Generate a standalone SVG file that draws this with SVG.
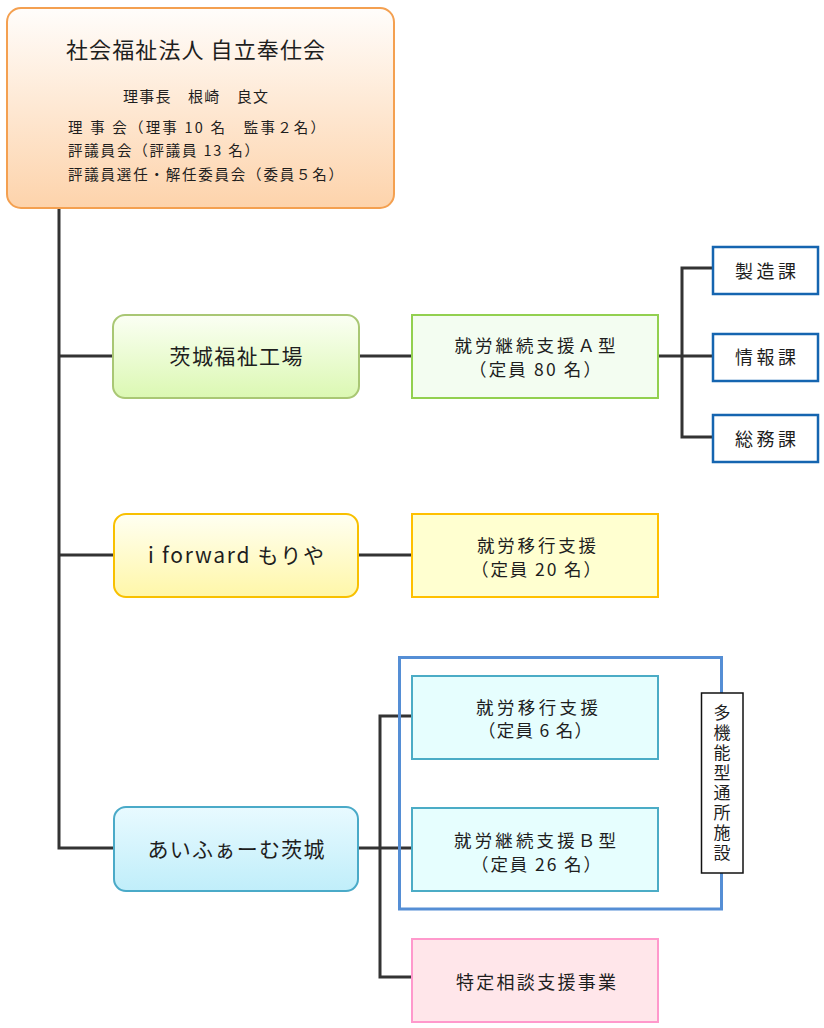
<svg xmlns="http://www.w3.org/2000/svg" width="824" height="1028" viewBox="0 0 824 1028">
<defs>
<linearGradient id="gOrange" x1="0" y1="0" x2="0" y2="1"><stop offset="0" stop-color="#fffdfb"/><stop offset="1" stop-color="#fdd3ab"/></linearGradient>
<linearGradient id="gGreen" x1="0" y1="0" x2="0" y2="1"><stop offset="0" stop-color="#fbfff4"/><stop offset="1" stop-color="#dbf8b2"/></linearGradient>
<linearGradient id="gYellow" x1="0" y1="0" x2="0" y2="1"><stop offset="0" stop-color="#fffff2"/><stop offset="1" stop-color="#fff7a8"/></linearGradient>
<linearGradient id="gBlue" x1="0" y1="0" x2="0" y2="1"><stop offset="0" stop-color="#e8faff"/><stop offset="1" stop-color="#c0eefa"/></linearGradient>
</defs>
<style>
text{font-family:"Noto Sans CJK JP","Noto Sans",sans-serif;fill:#1e1e1e;}
.c{text-anchor:middle;}
.conn{fill:none;stroke:#333;stroke-width:3;}
.sec{fill:#fff;stroke:#1565b0;stroke-width:2.5;}
.t16{font-size:17.5px;}
.t17{font-size:18px;}
.t19{font-size:21px;}
.vert{writing-mode:vertical-rl;font-size:17px;letter-spacing:3px;}
</style>
<rect width="824" height="1028" fill="#fff"/>
<g id="connectors">
<path class="conn" d="M59 208V848H114"/>
<path class="conn" d="M59 356H113"/>
<path class="conn" d="M59 555H114"/>
<path class="conn" d="M359 356H412"/>
<path class="conn" d="M658 356H713"/>
<path class="conn" d="M713 268H682V437H713"/>
<path class="conn" d="M358 555H412"/>
<path class="conn" d="M358 848H412"/>
<path class="conn" d="M412 716H380V977H412"/>
</g>
<g id="multi-group">
<rect x="399.5" y="657.5" width="322" height="251.5" fill="none" stroke="#558ed5" stroke-width="3"/>
</g>
<g id="hq">
<rect x="7" y="8" width="387" height="200" rx="14" fill="url(#gOrange)" stroke="#f4a050" stroke-width="2"/>
<text x="66" y="58" font-size="22" textLength="259" lengthAdjust="spacing">社会福祉法人 自立奉仕会</text>
<text x="123" y="102" font-size="15" textLength="145" lengthAdjust="spacing">理事長　根崎　良文</text>
<text x="68" y="133" font-size="14.5" textLength="257" lengthAdjust="spacing">理 事 会（理事 10 名　監事２名）</text>
<text x="68" y="156" font-size="14.5" textLength="191" lengthAdjust="spacing">評議員会（評議員 13 名）</text>
<text x="68" y="180" font-size="14.5" textLength="275" lengthAdjust="spacing">評議員選任・解任委員会（委員５名）</text>
</g>
<g id="ibaraki-fukushi">
<rect x="113" y="315" width="246" height="83" rx="12" fill="url(#gGreen)" stroke="#a9c774" stroke-width="2"/>
<text class="c t19" x="236" y="364" textLength="133" lengthAdjust="spacing">茨城福祉工場</text>
</g>
<g id="typeA">
<rect x="412" y="315" width="246" height="83" fill="#f3fdf1" stroke="#92d050" stroke-width="2"/>
<text class="c t16" x="535" y="352" textLength="161" lengthAdjust="spacing">就労継続支援Ａ型</text>
<text class="c t16" x="535" y="376" textLength="132" lengthAdjust="spacing">（定員 80 名）</text>
</g>
<g id="seizo">
<rect class="sec" x="713" y="247" width="105" height="47"/>
<text class="c t17" x="765.5" y="278" textLength="61" lengthAdjust="spacing">製造課</text>
</g>
<g id="joho">
<rect class="sec" x="713" y="334" width="105" height="47"/>
<text class="c t17" x="765.5" y="364" textLength="61" lengthAdjust="spacing">情報課</text>
</g>
<g id="somu">
<rect class="sec" x="713" y="415" width="105" height="47"/>
<text class="c t17" x="765.5" y="446" textLength="61" lengthAdjust="spacing">総務課</text>
</g>
<g id="iforward">
<rect x="114" y="514" width="244" height="83" rx="12" fill="url(#gYellow)" stroke="#f8c000" stroke-width="2"/>
<text class="c t19" x="236" y="563" textLength="176" lengthAdjust="spacing">i forward もりや</text>
</g>
<g id="ikou20">
<rect x="412" y="514" width="246" height="83" fill="#ffffd0" stroke="#ffc000" stroke-width="2"/>
<text class="c t16" x="536.5" y="552" textLength="119" lengthAdjust="spacing">就労移行支援</text>
<text class="c t16" x="536" y="576" textLength="130" lengthAdjust="spacing">（定員 20 名）</text>
</g>
<g id="aifarm">
<rect x="114" y="807" width="244" height="84" rx="12" fill="url(#gBlue)" stroke="#4aaac8" stroke-width="2"/>
<text class="c t19" x="236" y="857" textLength="177" lengthAdjust="spacing">あいふぁーむ茨城</text>
</g>
<g id="ikou6">
<rect x="412" y="676" width="246" height="83" fill="#e6fefe" stroke="#4bacc6" stroke-width="2"/>
<text class="c t16" x="537" y="714" textLength="122" lengthAdjust="spacing">就労移行支援</text>
<text class="c t16" x="535" y="737" textLength="114" lengthAdjust="spacing">（定員 6 名）</text>
</g>
<g id="typeB">
<rect x="412" y="808" width="246" height="83" fill="#e6fefe" stroke="#4bacc6" stroke-width="2"/>
<text class="c t16" x="535" y="847" textLength="162" lengthAdjust="spacing">就労継続支援Ｂ型</text>
<text class="c t16" x="536" y="871" textLength="130" lengthAdjust="spacing">（定員 26 名）</text>
</g>
<g id="multi-label">
<rect x="701.5" y="693" width="41.5" height="180" fill="#fff" stroke="#111" stroke-width="1.5"/>
<text class="vert" x="722" y="704">多機能型通所施設</text>
</g>
<g id="soudan">
<rect x="412" y="939" width="246" height="83" fill="#ffe6ea" stroke="#ff99cc" stroke-width="2"/>
<text class="c t17" x="536" y="989" textLength="160" lengthAdjust="spacing">特定相談支援事業</text>
</g>
</svg>
